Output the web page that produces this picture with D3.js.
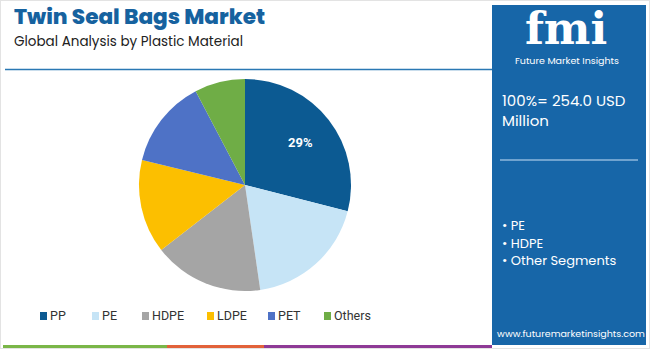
<!DOCTYPE html>
<html><head><meta charset="utf-8">
<script src="https://cdn.jsdelivr.net/npm/d3@7"></script>
<style>body{margin:0;background:#fff}svg{display:block}</style>
</head><body>
<svg id="c" width="650" height="349"></svg>
<script>
const categories = ["PP","PE","HDPE","LDPE","PET","Others"];
const shares = [29, 18.7, 16.8, 14.3, 13.5, 7.7];
const colors = ["#0c5a92","#c6e4f6","#a5a5a5","#fcbf00","#4e72c6","#6fad46"];
const shownLabels = ["29%","","","","",""];
const panelLines = ["100%= 254.0 USD","Million"];
const bullets = ["PE","HDPE","Other Segments"];

const svg = d3.select("#c");
const font = "Poppins, 'Open Sans', Lato, sans-serif";

// frame
svg.append("rect").attr("x",0.5).attr("y",0.5).attr("width",649).attr("height",348).attr("fill","none").attr("stroke","#e3e3e3");

// titles
svg.append("text").attr("x",14).attr("y",24).text("Twin Seal Bags Market")
  .attr("font-family",font).attr("font-weight",800).attr("font-size",21.6).attr("fill","#16629f");
svg.append("text").attr("x",14).attr("y",45.5).text("Global Analysis by Plastic Material")
  .attr("font-family",font).attr("font-size",13.5).attr("fill","#222");
svg.append("line").attr("x1",5).attr("x2",492).attr("y1",69.5).attr("y2",69.5).attr("stroke","#2a78b4").attr("stroke-width",1.5);

// bottom stripes
const stripes = [[3,167,"#7ab648"],[167,264,"#e2623a"],[264,492,"#8e3a96"]];
svg.selectAll(".s").data(stripes).enter().append("rect")
  .attr("x",d=>d[0]).attr("width",d=>d[1]-d[0]).attr("y",345).attr("height",3).attr("fill",d=>d[2]);

// right panel
svg.append("rect").attr("x",492).attr("y",5).attr("width",154).attr("height",340).attr("fill","#1766a8");
svg.append("text").attr("x",566).attr("y",44).attr("text-anchor","middle").text("fmi")
  .attr("font-family","'DejaVu Serif', serif").attr("font-weight",700).attr("font-size",44).attr("fill","#fff");
svg.append("text").attr("x",567).attr("y",64).attr("text-anchor","middle").text("Future Market Insights")
  .attr("font-family",font).attr("font-size",9.5).attr("fill","#fff");
svg.selectAll(".pl").data(panelLines).enter().append("text")
  .attr("x",502).attr("y",(d,i)=>106+i*20).text(d=>d)
  .attr("font-family",font).attr("font-size",15).attr("fill","#fff");
svg.append("line").attr("x1",500).attr("x2",638).attr("y1",160).attr("y2",160).attr("stroke","#8fb9dd").attr("stroke-width",1.5);
svg.selectAll(".bl").data(bullets).enter().append("text")
  .attr("x",502).attr("y",(d,i)=>230+i*17.5).text(d=>"• "+d)
  .attr("font-family",font).attr("font-size",13).attr("fill","#fff");
svg.append("text").attr("x",571).attr("y",337).attr("text-anchor","middle").text("www.futuremarketinsights.com")
  .attr("font-family",font).attr("font-size",9.5).attr("fill","#fff");

// pie
const R = 106;
const g = svg.append("g").attr("transform","translate(245,185)");
const pie = d3.pie().sort(null).value(d=>d);
const arcs = pie(shares);
const arc = d3.arc().innerRadius(0).outerRadius(R);
g.selectAll("path").data(arcs).enter().append("path").attr("d",arc).attr("fill",(d,i)=>colors[i]);
const lab = d3.arc().innerRadius(R*0.66).outerRadius(R*0.66);
g.selectAll(".lbl").data(arcs).enter().append("text")
  .attr("transform",d=>`translate(${lab.centroid(d)})`).attr("text-anchor","middle").attr("dy","0.35em")
  .text((d,i)=>shownLabels[i]).attr("font-family","Roboto, sans-serif").attr("font-weight",700).attr("font-size",13).attr("fill","#fff");

// legend
const lx = [40,92,142,207,268,324];
const lg = svg.selectAll(".lg").data(categories).enter().append("g").attr("transform",(d,i)=>`translate(${lx[i]},310)`);
lg.append("rect").attr("width",7).attr("height",8).attr("y",2).attr("fill",(d,i)=>colors[i]);
lg.append("text").attr("x",10).attr("y",9.5).text(d=>d).attr("font-family","Roboto, sans-serif").attr("font-size",12.5).attr("fill","#333");
</script>
</body></html>
